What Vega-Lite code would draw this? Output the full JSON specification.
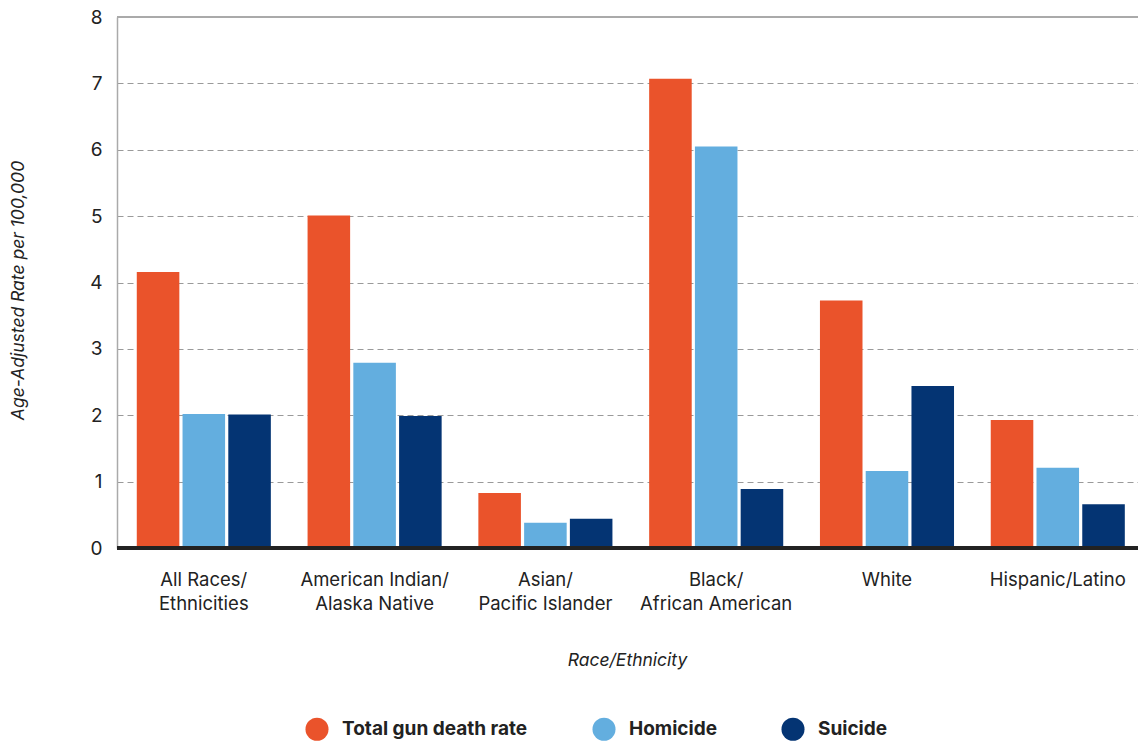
{
  "$schema": "https://vega.github.io/schema/vega-lite/v6.json",
  "width": 1021,
  "height": 531,
  "autosize": {"type": "none"},
  "padding": {"left": 117, "top": 17, "right": 0, "bottom": 194},
  "background": "white",
  "config": {
    "view": {"stroke": null},
    "font": "Inter"
  },
  "data": {
    "values": [
      {"group": "All Races/ Ethnicities", "measure": "Total gun death rate", "value": 4.16},
      {"group": "All Races/ Ethnicities", "measure": "Homicide", "value": 2.02},
      {"group": "All Races/ Ethnicities", "measure": "Suicide", "value": 2.01},
      {"group": "American Indian/ Alaska Native", "measure": "Total gun death rate", "value": 5.01},
      {"group": "American Indian/ Alaska Native", "measure": "Homicide", "value": 2.79},
      {"group": "American Indian/ Alaska Native", "measure": "Suicide", "value": 1.99},
      {"group": "Asian/ Pacific Islander", "measure": "Total gun death rate", "value": 0.83},
      {"group": "Asian/ Pacific Islander", "measure": "Homicide", "value": 0.38},
      {"group": "Asian/ Pacific Islander", "measure": "Suicide", "value": 0.44},
      {"group": "Black/ African American", "measure": "Total gun death rate", "value": 7.07},
      {"group": "Black/ African American", "measure": "Homicide", "value": 6.05},
      {"group": "Black/ African American", "measure": "Suicide", "value": 0.89},
      {"group": "White", "measure": "Total gun death rate", "value": 3.73},
      {"group": "White", "measure": "Homicide", "value": 1.16},
      {"group": "White", "measure": "Suicide", "value": 2.44},
      {"group": "Hispanic/Latino", "measure": "Total gun death rate", "value": 1.93},
      {"group": "Hispanic/Latino", "measure": "Homicide", "value": 1.21},
      {"group": "Hispanic/Latino", "measure": "Suicide", "value": 0.66}
    ]
  },
  "layer": [
    {
      "mark": {"type": "bar"},
      "encoding": {
        "x": {
          "field": "group",
          "type": "nominal",
          "sort": null,
          "scale": {"paddingInner": 0.215, "paddingOuter": 0.0965, "align": 0.6},
          "axis": {
            "title": "Race/Ethnicity",
            "titleFont": "Inter",
            "titleFontStyle": "italic",
            "titleFontWeight": "normal",
            "titleFontSize": 17.5,
            "titleColor": "#222222",
            "titleX": 510,
            "titleY": 112,
            "titleAlign": "center",
            "titleBaseline": "middle",
            "labelAngle": 0,
            "labelFontSize": 18.5,
            "labelColor": "#222222",
            "labelPadding": 22,
            "labelLineHeight": 24,
            "labelBaseline": "top",
            "labelLimit": 300,
            "labelExpr": "indexof(datum.label, '/ ') > 0 ? [slice(datum.label, 0, indexof(datum.label, '/ ') + 1), slice(datum.label, indexof(datum.label, '/ ') + 2)] : datum.label",
            "ticks": false,
            "domain": false
          }
        },
        "xOffset": {
          "field": "measure",
          "type": "nominal",
          "sort": ["Total gun death rate", "Homicide", "Suicide"],
          "scale": {"paddingInner": 0.07}
        },
        "y": {
          "field": "value",
          "type": "quantitative",
          "scale": {"domain": [0, 8], "nice": false},
          "axis": {
            "title": "Age-Adjusted Rate per 100,000",
            "titleFont": "Inter",
            "titleFontStyle": "italic",
            "titleFontWeight": "normal",
            "titleFontSize": 17.5,
            "titleColor": "#222222",
            "titleAngle": -90,
            "titleX": -99,
            "titleY": 273,
            "titleAlign": "center",
            "titleBaseline": "middle",
            "values": [0, 1, 2, 3, 4, 5, 6, 7, 8],
            "format": "d",
            "labelFontSize": 19,
            "labelColor": "#222222",
            "labelPadding": 15,
            "ticks": false,
            "domain": true,
            "domainColor": "#aaaaaa",
            "domainWidth": 1.5,
            "grid": true,
            "gridColor": "#9a9a9a",
            "gridDash": [6, 4],
            "gridWidth": 1
          }
        },
        "color": {
          "field": "measure",
          "type": "nominal",
          "sort": ["Total gun death rate", "Homicide", "Suicide"],
          "scale": {
            "domain": ["Total gun death rate", "Homicide", "Suicide"],
            "range": ["#EA532B", "#63AEDF", "#043473"]
          },
          "legend": {
            "title": null,
            "orient": "none",
            "direction": "horizontal",
            "legendX": 188,
            "legendY": 700,
            "symbolType": "circle",
            "symbolSize": 530,
            "symbolStrokeWidth": 0,
            "labelFont": "Inter",
            "labelFontSize": 19,
            "labelFontWeight": "bold",
            "labelColor": "#222222",
            "labelOffset": 13,
            "columnPadding": 64,
            "labelLimit": 300
          }
        }
      }
    },
    {
      "mark": {"type": "rule", "color": "#aaaaaa", "strokeWidth": 1.5},
      "encoding": {"y": {"datum": 8}}
    },
    {
      "mark": {"type": "rule", "color": "#222222", "strokeWidth": 4},
      "encoding": {"y": {"datum": 0}}
    }
  ]
}
